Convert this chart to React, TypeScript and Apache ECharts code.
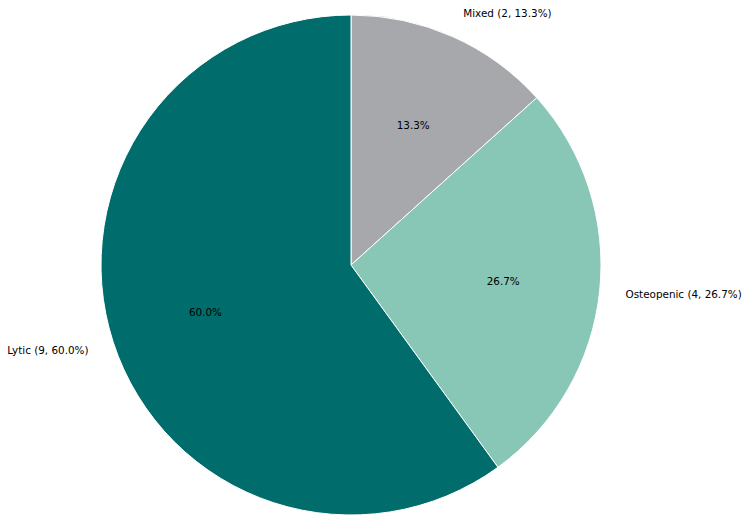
import React, { useEffect, useRef } from "react";
import * as echarts from "echarts";

const categories = ["Mixed", "Osteopenic", "Lytic"];
const counts = [2, 4, 9];
const colors = ["#A7A8AB", "#88C6B5", "#006D6C"];

export default function App() {
  const ref = useRef<HTMLDivElement>(null);
  useEffect(() => {
    document.body.style.margin = "0";
    const chart = echarts.init(ref.current!, null, { renderer: "svg" });
    const total = counts.reduce((a, b) => a + b, 0);
    const pct = (v: number) => ((v / total) * 100).toFixed(1);
    const data = categories.map((name, i) => ({
      name,
      value: counts[i],
      itemStyle: { color: colors[i] },
    }));
    const font = { fontFamily: "DejaVu Sans", fontSize: 10.4, color: "#000" };
    chart.setOption({
      animation: false,
      series: [
        {
          type: "pie",
          center: [351, 265],
          radius: [0, 250],
          startAngle: 90,
          clockwise: true,
          avoidLabelOverlap: false,
          itemStyle: { borderColor: "#fff", borderWidth: 1 },
          emphasis: { disabled: true },
          label: {
            show: true,
            position: "outside",
            distanceToLabelLine: 0,
            width: 200,
            overflow: "none",
            ...font,
            formatter: (p: any) => `${p.name} (${p.value}, ${pct(p.value)}%)`,
          },
          labelLine: { show: false, length: 26, length2: 0 },
          data,
        },
        {
          type: "pie",
          center: [351, 265],
          radius: [50, 250],
          startAngle: 90,
          clockwise: true,
          silent: true,
          emphasis: { disabled: true },
          itemStyle: { color: "rgba(0,0,0,0)" },
          label: {
            show: true,
            position: "inside",
            ...font,
            formatter: (p: any) => `${pct(p.value)}%`,
          },
          labelLine: { show: false },
          data: categories.map((name, i) => ({ name, value: counts[i] })),
        },
      ],
    });
    return () => chart.dispose();
  }, []);
  return <div ref={ref} style={{ width: 750, height: 525 }} />;
}
